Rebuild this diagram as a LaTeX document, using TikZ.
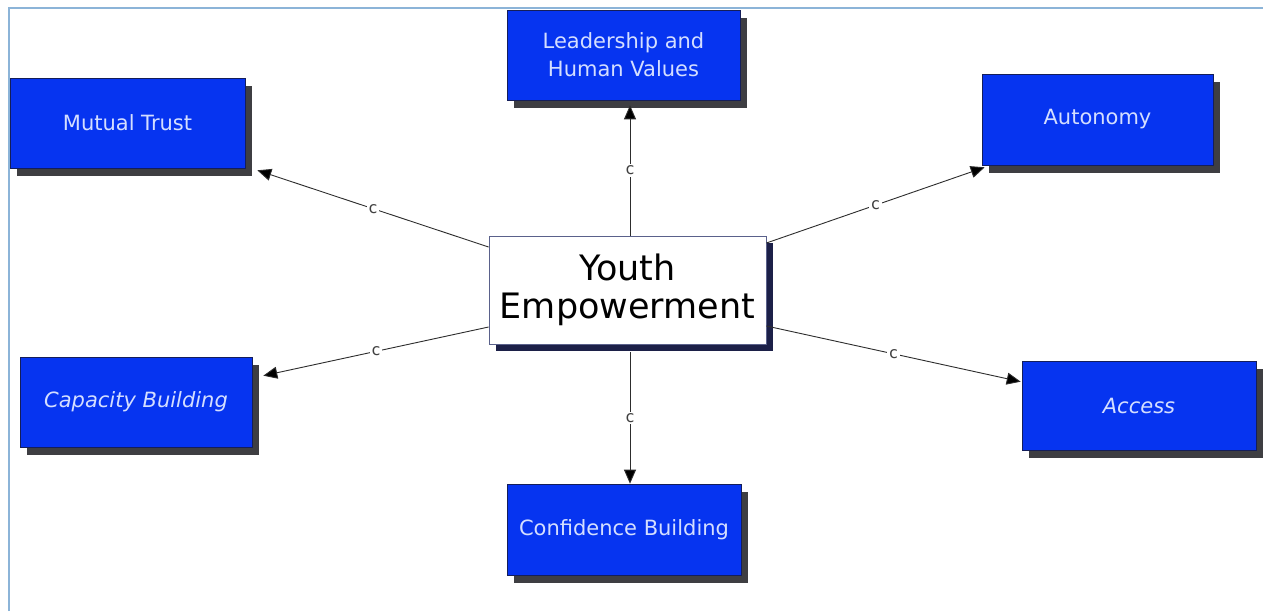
\documentclass[tikz,border=0pt]{standalone}
\usepackage{fontspec}
\setmainfont{DejaVu Sans}
\newfontfamily\labfont{DejaVu Sans Mono}
\usetikzlibrary{arrows.meta,shadows,calc}
\definecolor{boxblue}{RGB}{6,52,240}
\definecolor{boxtext}{RGB}{212,222,255}
\definecolor{boxedge}{RGB}{20,30,90}
\definecolor{shadowgray}{RGB}{62,62,66}
\definecolor{navyshadow}{RGB}{28,32,72}
\definecolor{framecol}{RGB}{140,180,216}
\definecolor{linecol}{RGB}{45,45,45}
\tikzset{
  bluebox/.style={draw=boxedge, line width=0.6pt, fill=boxblue, text=boxtext,
    font=\fontsize{21}{28}\selectfont, align=center, inner sep=0pt,
    drop shadow={shadow xshift=7pt, shadow yshift=-8pt, opacity=1, fill=shadowgray}},
  centerbox/.style={draw=boxedge!70!white, line width=0.8pt, fill=white, text=black,
    font=\fontsize{35}{38}\selectfont, align=center, inner sep=0pt,
    minimum width=277pt, minimum height=108pt,
    drop shadow={shadow xshift=7pt, shadow yshift=-7pt, opacity=1, fill=navyshadow}},
  conn/.style={draw=linecol, line width=0.9pt, -{Triangle[length=14pt,width=12pt,fill=black]}},
  clab/.style={fill=white, inner sep=1.5pt, font=\labfont\fontsize{16}{16}\selectfont, text=black!75},
}
\begin{document}
\begin{tikzpicture}[x=1pt,y=-1pt]
\useasboundingbox (0,0) rectangle (1263,611);
\fill[white] (0,0) rectangle (1263,611);
\draw[framecol, line width=2pt] (9,611) -- (9,8) -- (1263,8);

\node[bluebox, minimum width=235pt, minimum height=90pt] (mt) at (127.5,123) {Mutual Trust};
\node[bluebox, minimum width=233pt, minimum height=90pt] (lh) at (623.5,55) {Leadership and\\Human Values};
\node[bluebox, minimum width=231pt, minimum height=91pt] (au) at (1097.5,119.5) {Autonomy};
\node[bluebox, minimum width=232pt, minimum height=90pt] (cb) at (136,402) {\itshape Capacity Building};
\node[bluebox, minimum width=234pt, minimum height=89pt] (ac) at (1139,405.5) {\itshape Access};
\node[bluebox, minimum width=234pt, minimum height=91pt] (cf) at (624,529.5) {Confidence Building};
\node[centerbox] (ye) at (627.5,290) {Youth\\Empowerment};

\draw[conn] ($(ye.west)+(0,-43)$) -- node[clab]{c} ($(mt.south east)+(12,2)$);
\draw[conn] ($(ye.north)+(2.5,0)$) -- node[clab]{c} ($(lh.south)+(6.5,5)$);
\draw[conn] ($(ye.east)+(0,-47)$) -- node[clab]{c} ($(au.south west)+(3,2)$);
\draw[conn] ($(ye.west)+(0,37)$) -- node[clab]{c} ($(cb.north east)+(11,19)$);
\draw[conn] ($(ye.east)+(0,36)$) -- node[clab]{c} ($(ac.north west)+(-1,21)$);
\draw[conn] ($(ye.south)+(2.5,8)$) -- node[clab]{c} ($(cf.north)+(6,0)$);
\end{tikzpicture}
\end{document}
